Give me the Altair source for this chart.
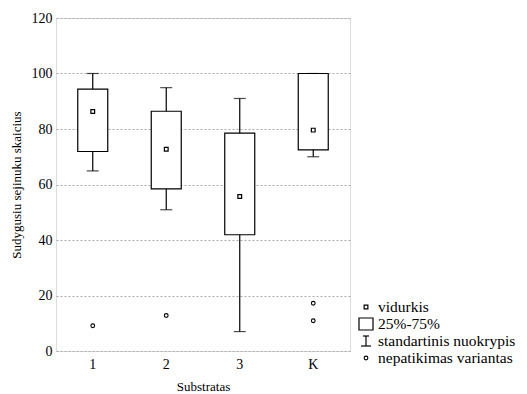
import altair as alt
import pandas as pd

categories = ["1", "2", "3", "K"]
means = [86.3, 72.7, 55.7, 79.6]
q25 = [71.9, 58.4, 41.9, 72.5]
q75 = [94.4, 86.4, 78.5, 100.0]
sd_low = [64.9, 50.9, 7.0, 70.0]
sd_high = [100.0, 94.9, 91.0, 100.0]
outlier_cats = ["1", "2", "K", "K"]
outlier_vals = [9.1, 12.8, 17.2, 10.9]

legend_labels = ["vidurkis", "25%-75%", "standartinis nuokrypis", "nepatikimas variantas"]

FONT = "Liberation Serif"
W, H = 294, 333

df = pd.DataFrame({"cat": categories, "mean": means, "q25": q25, "q75": q75,
                   "lo": sd_low, "hi": sd_high})
dfo = pd.DataFrame({"cat": outlier_cats, "val": outlier_vals})

xscale = alt.Scale(domain=categories, paddingInner=0, paddingOuter=0)
x = alt.X("cat:N", scale=xscale, sort=categories,
          axis=alt.Axis(title="Substratas", labelAngle=0, labelFont=FONT, labelFontSize=14,
                        titleFont=FONT, titleFontSize=13, titleFontWeight="normal",
                        tickSize=0, labelPadding=6, titlePadding=9, domain=False,
                        labelColor="black", titleColor="black"))
yscale = alt.Scale(domain=[0, 120], nice=False)
yax = alt.Axis(title="Sudygusiu sejinuku skaicius", values=[0, 20, 40, 60, 80, 100, 120],
               labelFont=FONT, labelFontSize=14, titleFont=FONT, titleFontSize=13,
               titleFontWeight="normal", tickSize=0, labelPadding=4, domain=False,
               grid=True, gridDash=[2, 2], gridColor="#aaaaaa", gridWidth=1,
               titlePadding=8, labelColor="black", titleColor="black")

base = alt.Chart(df)

whisk = base.mark_rule(color="black", strokeWidth=1.2).encode(
    x=x, y=alt.Y("lo:Q", scale=yscale, axis=yax), y2="hi:Q")
caps_lo = base.mark_tick(color="black", size=12, thickness=1.2, orient="horizontal").encode(
    x=x, y=alt.Y("lo:Q", scale=yscale))
caps_hi = base.mark_tick(color="black", size=12, thickness=1.2, orient="horizontal").encode(
    x=x, y=alt.Y("hi:Q", scale=yscale))
box = base.mark_bar(fill="white", stroke="black", strokeWidth=1.2, size=30).encode(
    x=x, y=alt.Y("q25:Q", scale=yscale), y2="q75:Q")
mean_pt = base.mark_point(shape="square", filled=False, color="black", size=14,
                          strokeWidth=1.2, opacity=1).encode(
    x=x, y=alt.Y("mean:Q", scale=yscale))
outl = alt.Chart(dfo).mark_point(shape="circle", filled=False, color="black", size=14,
                                 strokeWidth=1.1, opacity=1).encode(
    x=alt.X("cat:N", scale=xscale, sort=categories), y=alt.Y("val:Q", scale=yscale))

# legend (drawn outside the plot area, to the right)
lx_sym = 310
lx_txt = 322
ly = [289, 306, 323, 340]
leg_df = pd.DataFrame({"lab": legend_labels})

def text_item(i):
    return alt.Chart(pd.DataFrame({"lab": [legend_labels[i]]})).mark_text(
        align="left", baseline="middle", font=FONT, fontSize=15.5, color="black").encode(
        x=alt.value(lx_txt), y=alt.value(ly[i]), text="lab:N")

leg_mean = alt.Chart(leg_df.iloc[:1]).mark_point(shape="square", filled=False, color="black",
                                                 size=14, strokeWidth=1.2, opacity=1).encode(
    x=alt.value(lx_sym), y=alt.value(ly[0]))
leg_box = alt.Chart(leg_df.iloc[:1]).mark_rect(fill="white", stroke="black", strokeWidth=1.2).encode(
    x=alt.value(lx_sym - 7), x2=alt.value(lx_sym + 7), y=alt.value(ly[1] - 6), y2=alt.value(ly[1] + 6))
leg_line = alt.Chart(leg_df.iloc[:1]).mark_rule(color="black", strokeWidth=1.2).encode(
    x=alt.value(lx_sym), y=alt.value(ly[2] - 5), y2=alt.value(ly[2] + 5))
leg_cap_b = alt.Chart(leg_df.iloc[:1]).mark_rule(color="black", strokeWidth=1.2).encode(
    x=alt.value(lx_sym - 5), x2=alt.value(lx_sym + 5), y=alt.value(ly[2] + 5))
leg_cap_t = alt.Chart(leg_df.iloc[:1]).mark_rule(color="black", strokeWidth=1.2).encode(
    x=alt.value(lx_sym - 3), x2=alt.value(lx_sym + 3), y=alt.value(ly[2] - 5))
leg_out = alt.Chart(leg_df.iloc[:1]).mark_point(shape="circle", filled=False, color="black",
                                                size=14, strokeWidth=1.1, opacity=1).encode(
    x=alt.value(lx_sym), y=alt.value(ly[3]))

chart = alt.layer(
    whisk, caps_lo, caps_hi, box, mean_pt, outl,
    leg_mean, leg_box, leg_line, leg_cap_b, leg_cap_t, leg_out,
    text_item(0), text_item(1), text_item(2), text_item(3)
).properties(
    width=W, height=H,
    autosize=alt.AutoSizeParams(type="none"),
    padding={"left": 48, "top": 10, "right": 169, "bottom": 42},
).configure_view(stroke="black", strokeWidth=1.2).configure(
    background="white", font=FONT
).configure_text(font=FONT)

chart.save("out.html", embed_options={"renderer": "svg", "actions": False})
